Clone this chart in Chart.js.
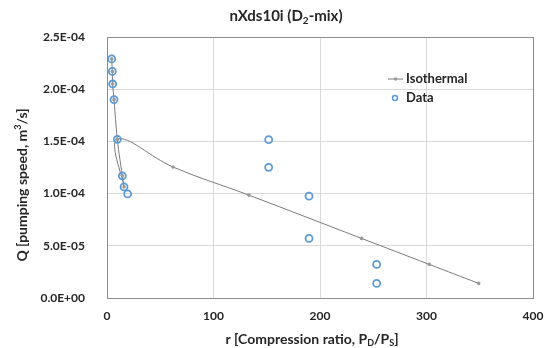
<!DOCTYPE html>
<html>
<head>
<meta charset="utf-8">
<script src="https://cdn.jsdelivr.net/npm/chart.js@4/dist/chart.umd.min.js"></script>
<style>
  html, body { margin: 0; padding: 0; background: #fff; }
  #wrap { width: 555px; height: 348px; }
</style>
</head>
<body>
<div id="wrap"><canvas id="pumpChart" width="555" height="348"></canvas></div>
<script>
// measured points (r, Q)
const dataR = [4.4, 5, 5.3, 6.6, 9.7, 14.4, 16, 19.4, 151.8, 151.8, 189.7, 189.7, 253.2, 253.2];
const dataQ = [2.29e-4, 2.17e-4, 2.05e-4, 1.90e-4, 1.52e-4, 1.17e-4, 1.064e-4, 0.997e-4,
               1.517e-4, 1.252e-4, 0.975e-4, 0.571e-4, 0.322e-4, 0.14e-4];

// isothermal model curve
const isoR = [4.4, 5, 5.3, 6.6, 9.7, 14.4, 16, 9.7, 62, 133.3, 239, 302.6, 349];
const isoQ = [2.29e-4, 2.17e-4, 2.05e-4, 1.90e-4, 1.52e-4, 1.17e-4, 1.064e-4, 1.52e-4,
              1.255e-4, 0.985e-4, 0.571e-4, 0.322e-4, 0.14e-4];

const xTicks = [0, 100, 200, 300, 400];
const seriesNames = ['Isothermal', 'Data'];

const FONT = 'Lato, "Open Sans", sans-serif';
const TEXT = '#262626';
const BLUE = '#5b9bd5';
const GREY = '#7a7a7a';

function sciLabel(v) {
    const parts = Number(v).toExponential(1).split('e');
    let exp = parseInt(parts[1], 10);
    const sign = exp < 0 ? '-' : '+';
    exp = Math.abs(exp);
    return parts[0] + 'E' + sign + (exp < 10 ? '0' + exp : exp);
}

// draws text made of pieces, some as sub/superscript
function drawRich(ctx, pieces, cx, cy, size) {
    const small = Math.round(size * 0.65);
    let total = 0;
    pieces.forEach(p => {
        ctx.font = 'bold ' + (p.sub || p.sup ? small : size) + 'px ' + FONT;
        p.w = ctx.measureText(p.t).width;
        total += p.w;
    });
    let x = cx - total / 2;
    ctx.textAlign = 'left';
    ctx.textBaseline = 'middle';
    pieces.forEach(p => {
        ctx.font = 'bold ' + (p.sub || p.sup ? small : size) + 'px ' + FONT;
        let dy = 0;
        if (p.sub) dy = size * 0.3;
        if (p.sup) dy = -size * 0.3;
        ctx.fillText(p.t, x, cy + dy);
        x += p.w;
    });
}

const decorations = {
    id: 'decorations',
    afterDraw(chart) {
        const ctx = chart.ctx;
        const area = chart.chartArea;
        ctx.save();

        // plot frame
        ctx.strokeStyle = '#8c8c8c';
        ctx.lineWidth = 1;
        ctx.strokeRect(Math.round(area.left) + 0.5, Math.round(area.top) + 0.5,
                       Math.round(area.right - area.left), Math.round(area.bottom - area.top));

        ctx.fillStyle = TEXT;
        // title
        drawRich(ctx, [{ t: 'nXds10i (D' }, { t: '2', sub: true }, { t: '-mix)' }], 286, 16, 15);

        // x axis title
        drawRich(ctx, [{ t: 'r [Compression ratio, P' }, { t: 'D', sub: true }, { t: '/P' },
                       { t: 'S', sub: true }, { t: ']' }], 312, 339, 14);

        // y axis title
        ctx.save();
        ctx.translate(22, 185);
        ctx.rotate(-Math.PI / 2);
        drawRich(ctx, [{ t: 'Q [pumping speed, m' }, { t: '3', sup: true }, { t: '/s]' }], 0, 0, 14);
        ctx.restore();

        // legend
        const lx = 388, ly1 = 79, ly2 = 98;
        ctx.strokeStyle = GREY;
        ctx.lineWidth = 1;
        ctx.beginPath();
        ctx.moveTo(lx, ly1);
        ctx.lineTo(lx + 15, ly1);
        ctx.stroke();
        ctx.fillStyle = '#999';
        ctx.beginPath();
        ctx.arc(lx + 7.5, ly1, 1.8, 0, Math.PI * 2);
        ctx.fill();

        ctx.strokeStyle = BLUE;
        ctx.lineWidth = 1.5;
        ctx.beginPath();
        ctx.arc(lx + 7, ly2, 2.5, 0, Math.PI * 2);
        ctx.stroke();

        ctx.fillStyle = TEXT;
        ctx.font = 'bold 13px ' + FONT;
        ctx.textAlign = 'left';
        ctx.textBaseline = 'middle';
        ctx.fillText(seriesNames[0], lx + 18, ly1);
        ctx.fillText(seriesNames[1], lx + 18, ly2);

        ctx.restore();
    }
};

const ctx = document.getElementById('pumpChart').getContext('2d');
const chart = new Chart(ctx, {
    type: 'scatter',
    data: {
        datasets: [
            {
                label: seriesNames[1],
                data: dataR.map((r, i) => ({ x: r, y: dataQ[i] })),
                showLine: false,
                pointStyle: 'circle',
                pointRadius: 3.5,
                pointBorderWidth: 1.8,
                pointBorderColor: BLUE,
                pointBackgroundColor: 'rgba(255,255,255,0)',
                order: 0
            },
            {
                label: seriesNames[0],
                data: isoR.map((r, i) => ({ x: r, y: isoQ[i] })),
                showLine: true,
                tension: 0.4,
                borderColor: GREY,
                borderWidth: 1,
                pointRadius: 1.8,
                pointBorderWidth: 0,
                pointBackgroundColor: '#999',
                order: 1
            }
        ]
    },
    options: {
        responsive: false,
        animation: false,
        layout: { padding: { top: 37, right: 22, left: 0, bottom: 0 } },
        plugins: {
            legend: { display: false },
            title: { display: false },
            tooltip: { enabled: false }
        },
        scales: {
            x: {
                type: 'linear',
                min: 0,
                max: 400,
                afterFit: scale => { scale.height = 50; },
                afterBuildTicks: scale => { scale.ticks = xTicks.map(v => ({ value: v })); },
                ticks: {
                    padding: 11,
                    color: TEXT,
                    font: { family: FONT, size: 12, weight: 'bold' }
                },
                grid: { color: '#d9d9d9', drawTicks: false },
                border: { color: '#8c8c8c' }
            },
            y: {
                min: 0,
                max: 2.5e-4,
                afterFit: scale => { scale.width = 107; },
                ticks: {
                    stepSize: 5e-5,
                    padding: 22,
                    color: TEXT,
                    font: { family: FONT, size: 12, weight: 'bold' },
                    callback: v => sciLabel(v)
                },
                grid: { color: '#d9d9d9', drawTicks: false },
                border: { color: '#8c8c8c' }
            }
        }
    },
    plugins: [decorations]
});
</script>
</body>
</html>
